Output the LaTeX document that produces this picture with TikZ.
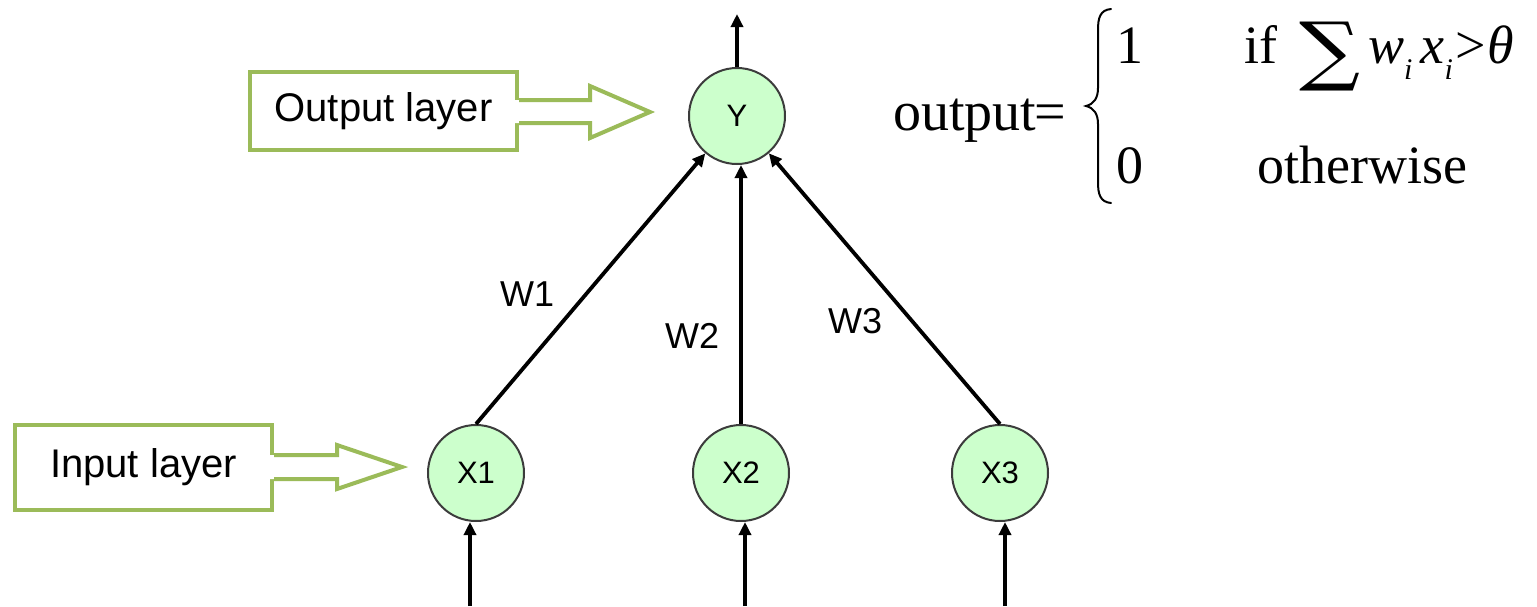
\documentclass[tikz,border=0pt]{standalone}
\usepackage{fontspec}
\usepackage{graphicx}
\setmainfont{Liberation Serif}
\newfontfamily\labfont{Liberation Sans}
\newfontfamily\sumfont{DejaVu Serif}
\usetikzlibrary{arrows.meta,calc}
\definecolor{boxgreen}{HTML}{9BBB59}
\definecolor{nodegreen}{HTML}{CCFFCC}
\definecolor{nodeborder}{HTML}{3C3C3C}
\newcommand{\subi}{\raisebox{-0.3em}{\fontsize{30}{32}\selectfont\itshape i}}
\begin{document}
\begin{tikzpicture}[x=1pt,y=-1pt,
  neuron/.style={circle,draw=nodeborder,line width=2pt,fill=nodegreen,minimum size=96pt,inner sep=0pt,font=\labfont\fontsize{31}{36}\selectfont},
  layerbox/.style={draw=boxgreen,line width=4pt,fill=white,inner sep=0pt,font=\labfont\fontsize{40}{46}\selectfont},
  blockarrow/.style={draw=boxgreen,line width=4pt,line join=miter},
  edge/.style={line width=3.8pt,-{Triangle[length=13pt,width=12pt]}},
  wlabel/.style={font=\labfont\fontsize{36}{40}\selectfont,inner sep=0pt,anchor=base west},
  formula/.style={font=\fontsize{54}{60}\selectfont,inner sep=0pt,anchor=base west}]
\useasboundingbox (0,0) rectangle (1537,606);

% neurons
\node[neuron] (Y) at (737,116) {Y};
\node[neuron] (X1) at (476,473) {X1};
\node[neuron] (X2) at (741,473) {X2};
\node[neuron] (X3) at (1000,473) {X3};

% connections
\draw[edge] (X1.north) -- (Y);
\draw[edge] (X2.north) -- (X2.north |- Y.south);
\draw[edge] (X3.north) -- (Y);

% output arrow
\coordinate (yout) at (737,14);
\draw[edge] (Y.north) -- (yout);

% input arrows
\coordinate (in1) at (470,606);
\coordinate (in2) at (745,606);
\coordinate (in3) at (1005,606);
\draw[edge] (in1) -- (in1 |- X1.south);
\draw[edge] (in2) -- (in2 |- X2.south);
\draw[edge] (in3) -- (in3 |- X3.south);

% weight labels
\node[wlabel] (w1) at (500,306) {W1};
\node[wlabel] (w2) at (665,348) {W2};
\node[wlabel] (w3) at (828,333) {W3};

% output layer box + block arrow
\node[layerbox,minimum width=267pt,minimum height=78pt] (outbox) at (383.5,111) {Output layer};
\fill[white] (513,100) -- (590,100) -- (590,86) -- (650,112) -- (590,138) -- (590,123) -- (513,123) -- cycle;
\draw[blockarrow] (outbox.east |- 0,100) -- (590,100) -- (590,86) -- (650,112) -- (590,138) -- (590,123) -- (outbox.east |- 0,123);

% input layer box + block arrow
\node[layerbox,minimum width=257pt,minimum height=85pt] (inbox) at (143.5,467.5) {Input layer};
\fill[white] (268,455) -- (337,455) -- (337,445) -- (402,467) -- (337,489) -- (337,479) -- (268,479) -- cycle;
\draw[blockarrow] (inbox.east |- 0,455) -- (337,455) -- (337,445) -- (402,467) -- (337,489) -- (337,479) -- (inbox.east |- 0,479);

% formula
\node[formula,font=\fontsize{56}{60}\selectfont] (outp) at (893,130) {output\kern-2pt=};
\draw[line width=2pt,line cap=round] (1111,9) .. controls (1100,10) and (1098,18) .. (1098,30)
  -- (1098,88) .. controls (1098,98) and (1094,104) .. (1086,106)
  .. controls (1094,108) and (1098,114) .. (1098,124)
  -- (1098,182) .. controls (1098,194) and (1100,202) .. (1111,203);
\node[formula] (one) at (1116,63) {1};
\node[formula] (zero) at (1116,183) {0};
\node[formula] (ifw) at (1244,63) {if};
\node[inner sep=0pt] (sum) at (1330,57) {\resizebox*{61pt}{69pt}{\sumfont ∑}};
\node[formula] (cond) at (1368,63) {\itshape w\subi\kern8pt x\subi\kern3pt\upshape{>}\kern1pt\itshape θ};
\node[formula] (other) at (1257,183) {otherwise};
\end{tikzpicture}
\end{document}
